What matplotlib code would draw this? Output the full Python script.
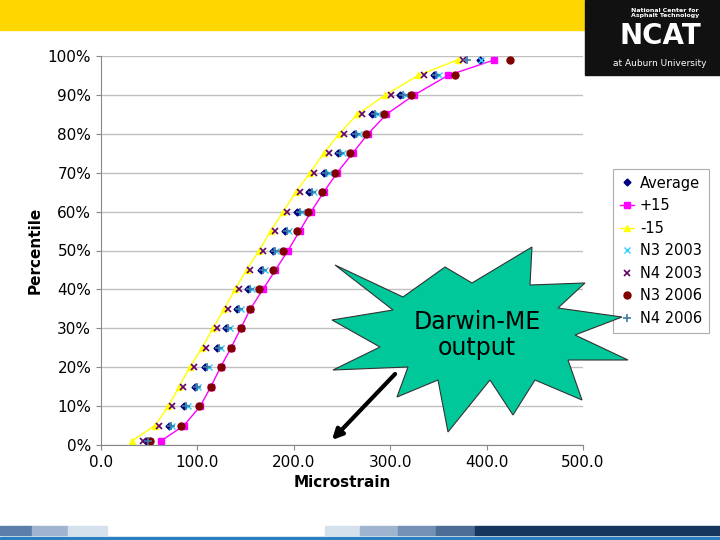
import matplotlib
matplotlib.use("Agg")
import matplotlib.pyplot as plt
from matplotlib.patches import Polygon, Rectangle
import matplotlib.ticker as mt

pct = [1,5,10,15,20,25,30,35,40,45,50,55,60,65,70,75,80,85,90,95,99]
minus15 = [32,56,70,81,92,105,116,128,139,151,164,176,189,202,217,231,247,266,295,329,370]
plus15 = [62,86,103,114,124,135,145,155,168,181,194,206,218,231,245,261,277,296,325,360,408]
average = [47,71,86,97,108,120,130,141,153,166,178,191,203,216,231,246,262,281,310,345,393]
n3_2003 = [51,74,90,101,112,124,134,145,157,170,182,195,208,221,236,251,268,287,316,351,394]
n4_2003 = [44,60,74,85,96,109,120,132,143,155,168,180,193,206,221,236,252,271,301,335,375]
n3_2006 = [51,83,102,114,124,135,145,155,164,178,189,203,215,229,243,258,275,294,322,367,424]
n4_2006 = [49,73,88,100,110,122,132,143,155,168,180,193,206,219,233,248,265,284,313,348,380]

W, H = 720, 540
fig = plt.figure(figsize=(7.2, 5.4), dpi=100)
fig.patch.set_facecolor("white")
fig.add_artist(Rectangle((0, 1-30/H), 585/W, 30/H, transform=fig.transFigure, color="#FFD700", zorder=0))
fig.add_artist(Rectangle((585/W, 1-75/H), 135/W, 75/H, transform=fig.transFigure, color="#111111", zorder=0))
fig.text(660/W, 1-64/H, "at Auburn University", color="white", fontsize=6.5, ha="center", va="center")
fig.text(660/W, 1-36/H, "NCAT", color="white", fontsize=20, weight="bold", ha="center", va="center")
fig.text(665/W, 1-13/H, "National Center for\nAsphalt Technology", color="white", fontsize=4.5, weight="bold", ha="center", va="center", linespacing=0.9)
stripes = [(0,32,"#5b7fa8"),(32,68,"#9fb5cf"),(68,107,"#d6e1ee"),(325,360,"#d6e1ee"),(360,398,"#9fb5cf"),(398,436,"#7390b5"),(436,475,"#4d6d96"),(475,720,"#17365d")]
for a,b,c in stripes:
    fig.add_artist(Rectangle((a/W, 5/H), (b-a)/W, 9/H, transform=fig.transFigure, color=c, zorder=0))
fig.add_artist(Rectangle((0, 0), 1, 3/H, transform=fig.transFigure, color="#2a7fc0", zorder=0))

ax = fig.add_axes([101/W, 1-445/H, (583-101)/W, (445-56)/H])
ax.set_xlim(0, 500)
ax.set_ylim(0, 100)
ax.yaxis.set_major_locator(mt.MultipleLocator(10))
ax.xaxis.set_major_locator(mt.MultipleLocator(100))
ax.yaxis.set_major_formatter(mt.FuncFormatter(lambda v, p: f"{v:.0f}%"))
ax.xaxis.set_major_formatter(mt.FuncFormatter(lambda v, p: f"{v:.1f}"))
ax.grid(axis="y", color="#c0c0c0", lw=1)
ax.set_axisbelow(True)
for s in ["top", "right"]:
    ax.spines[s].set_visible(False)
for s in ["left", "bottom"]:
    ax.spines[s].set_color("#888888")
ax.tick_params(labelsize=11, color="#888888")

ax.plot(average, pct, ls="none", marker="D", ms=3.5, color="#000080", label="Average")
ax.plot(plus15, pct, marker="s", ms=5, color="#FF00FF", lw=1, label="+15")
ax.plot(minus15, pct, marker="^", ms=5, color="#FFFF00", lw=1, label="-15")
ax.plot(n3_2003, pct, ls="none", marker="x", ms=4, mew=1, color="#33CCFF", label="N3 2003")
ax.plot(n4_2003, pct, ls="none", marker="x", ms=4, mew=1.2, color="#660066", label="N4 2003")
ax.plot(n3_2006, pct, ls="none", marker="o", ms=5, color="#800000", label="N3 2006")
ax.plot(n4_2006, pct, ls="none", marker="+", ms=6, mew=1.2, color="#3A7CA5", label="N4 2006")
ax.set_xlabel("Microstrain", fontsize=11, weight="bold")
ax.set_ylabel("Percentile", fontsize=11, weight="bold")

leg = fig.legend(loc="upper left", bbox_to_anchor=(613/W, 1-169/H), fontsize=10.5, frameon=True,
                 fancybox=False, edgecolor="#999999", handlelength=1.0, borderpad=0.45, labelspacing=0.52,
                 handletextpad=0.4, borderaxespad=0)
leg.get_frame().set_linewidth(0.8)
leg.set_zorder(4)

star = [(335,265),(403,297),(445,267),(472,283),(532,247),(530,285),(585,283),(558,308),(622,317),(575,335),
        (628,360),(568,360),(582,400),(535,380),(513,415),(490,380),(448,432),(438,380),(397,397),(408,367),
        (333,370),(380,347),(332,320),(393,310)]
pts = [(x/W, 1-y/H) for x,y in star]
fig.add_artist(Polygon(pts, closed=True, transform=fig.transFigure, facecolor="#00C89A", edgecolor="#333333", lw=0.8, zorder=8))
fig.text(477/W, 1-335/H, "Darwin-ME\noutput", fontsize=17, ha="center", va="center", zorder=9, linespacing=1.1)
ax.annotate("", xy=(330/W, 1-442/H), xytext=(397/W, 1-372/H), xycoords="figure fraction",
            arrowprops=dict(arrowstyle="-|>", lw=3, color="black", mutation_scale=15), zorder=9)
fig.savefig("out.png", dpi=100)
